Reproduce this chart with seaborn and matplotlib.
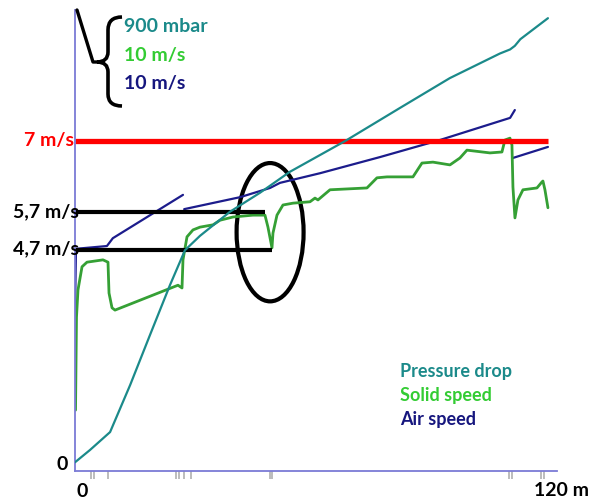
import numpy as np
import pandas as pd
import matplotlib.pyplot as plt
from matplotlib.patches import Ellipse
from matplotlib.path import Path
from matplotlib.patches import PathPatch
import seaborn as sns

# pressure drop (mbar) along the line (m)
p_x = [0, 3.8, 8.9, 14.0, 19.0, 24.1, 27.9, 31.7, 39.3, 46.9, 54.5, 62.2, 68.5,
       82.5, 95.1, 107.8, 110.4, 111.6, 113.0, 120]
p_mbar = [17, 41, 76, 168, 265, 363, 431, 459, 506, 543, 584, 617, 644,
          709, 767, 815, 823, 830, 843, 884]

# solid speed (m/s)
s_x = [0.13, 0.38, 0.76, 1.78, 3.04, 7.10, 8.37, 8.63, 9.39, 10.15, 26.13, 27.15,
       27.40, 28.42, 29.94, 31.72, 35.02, 36.80, 40.10, 45.16, 48.20, 48.96, 49.98,
       50.23, 51.25, 52.77, 55.31, 59.62, 60.89, 61.65, 64.70, 74.08, 76.62, 79.16,
       85.75, 88.04, 90.83, 95.14, 97.67, 99.45, 105.29, 108.33, 109.09, 110.36,
       110.87, 111.12, 111.63, 112.39, 113.66, 117.21, 118.48, 118.73, 119.24, 120]
s_speed = [1.32, 3.34, 3.93, 4.43, 4.53, 4.58, 4.53, 3.86, 3.54, 3.49, 4.03, 3.97,
           4.58, 5.08, 5.23, 5.29, 5.34, 5.44, 5.51, 5.55, 5.55, 5.29, 4.84,
           5.16, 5.55, 5.77, 5.81, 5.84, 5.92, 5.88, 6.10, 6.14, 6.36, 6.38,
           6.38, 6.68, 6.70, 6.64, 6.79, 6.96, 6.90, 6.92, 7.18, 7.22,
           7.07, 6.16, 5.49, 5.88, 6.10, 6.14, 6.27, 6.29, 6.10, 5.71]

# air speed (m/s), three pieces
a1_x = [0, 0.1, 0.25, 8.1, 9.6, 27.4]
a1_speed = [3.3, 4.0, 4.82, 4.88, 5.05, 5.99]
a2_x = [27.7, 41.9, 49.5, 52.0, 62.2, 77.4, 92.6, 110.4, 111.6]
a2_speed = [5.68, 5.94, 6.14, 6.25, 6.46, 6.81, 7.18, 7.66, 7.83]
a3_x = [111.1, 120]
a3_speed = [6.79, 7.03]

limit_speed = 7.16
marks_x = [4.06, 4.82, 8.37, 25.6, 26.4, 27.7, 29.4, 49.5, 50.0, 110.1, 110.9, 118.2, 119.0]

teal = '#1b8a8a'
green = '#35a035'
green_txt = '#33cc33'
navy = '#1c1c8c'
navy_txt = '#16167e'

sns.set_style('white')
plt.rcParams['font.family'] = ['Lato', 'DejaVu Sans']

fig = plt.figure(figsize=(6, 5.04), dpi=100)
ax = fig.add_axes([75 / 600, 1 - 471 / 504, (557 - 75) / 600, (471 - 10) / 504])
ax.set_xlim(0, 122.3)
ax.set_ylim(0, 10)

air = pd.concat([
    pd.DataFrame({'x': a1_x, 'v': a1_speed, 'seg': 1}),
    pd.DataFrame({'x': a2_x, 'v': a2_speed, 'seg': 2}),
    pd.DataFrame({'x': a3_x, 'v': a3_speed, 'seg': 3}),
])
sns.lineplot(data=air, x='x', y='v', units='seg', estimator=None, sort=False,
             color=navy, lw=1.6, ax=ax)
sns.lineplot(x=s_x, y=s_speed, sort=False, estimator=None, color=green, lw=2, ax=ax)

ax2 = ax.twinx()
ax2.set_ylim(0, 900)
sns.lineplot(x=p_x, y=p_mbar, sort=False, estimator=None, color=teal, lw=1.6, ax=ax2)
ax2.axis('off')

# red limit line
ax.plot([0, 120], [limit_speed, limit_speed], color='red', lw=3.8, solid_capstyle='butt')
# black reference lines
ax.plot([0, 48.2], [5.62, 5.62], color='black', lw=3, solid_capstyle='butt')
ax.plot([0, 50.0], [4.79, 4.79], color='black', lw=3, solid_capstyle='butt')
ax.add_patch(Ellipse((49.5, 5.18), 17.0, 3.0, fill=False, ec='black', lw=3))

for s in ['top', 'right']:
    ax.spines[s].set_visible(False)
for s in ['left', 'bottom']:
    ax.spines[s].set_color('#7b7bd6')
    ax.spines[s].set_linewidth(1.3)

ax.set_yticks([])
ax.set_xticks(marks_x)
ax.set_xticklabels([])
ax.tick_params(axis='x', direction='out', length=6, width=1.2, color='#b0b0b0', bottom=True)
ax.set_xlabel('')
ax.set_ylabel('')

bold = dict(fontweight='bold', fontsize=14)
ax.text(-0.3, limit_speed, '7 m/s', color='red', ha='right', va='center', **bold)
ax.text(1.0, 5.62, '5,7 m/s', color='black', ha='right', va='center', **bold)
ax.text(1.0, 4.83, '4,7 m/s', color='black', ha='right', va='center', **bold)
ax.text(-1.8, 0.15, '0', color='black', ha='right', va='center', **bold)
ax.text(1.8, -0.45, '0', color='black', ha='center', va='center', **bold)
ax.text(123.5, -0.42, '120 m', color='black', ha='center', va='center', clip_on=False, **bold)

# top scale labels
fig.text(124 / 600, 1 - 27 / 504, '900 mbar', color=teal, va='center', **bold)
fig.text(124 / 600, 1 - 55 / 504, '10 m/s', color=green_txt, va='center', **bold)
fig.text(124 / 600, 1 - 83 / 504, '10 m/s', color=navy_txt, va='center', **bold)

# legend text
leg = dict(fontweight='bold', fontsize=13)
fig.text(400 / 600, 1 - 372 / 504, 'Pressure drop', color=teal, va='center', **leg)
fig.text(400 / 600, 1 - 395 / 504, 'Solid speed', color=green_txt, va='center', **leg)
fig.text(400 / 600, 1 - 419 / 504, 'Air speed', color=navy_txt, va='center', **leg)


def fp(px, py):
    return (px / 600, 1 - py / 504)


# brace and pointer
verts = [fp(122, 17), fp(108, 17), fp(108, 30), fp(108, 52), fp(108, 62), fp(97, 62),
         fp(108, 62), fp(108, 72), fp(108, 94), fp(108, 106), fp(122, 106)]
codes = [Path.MOVETO, Path.CURVE3, Path.CURVE3, Path.LINETO, Path.CURVE3, Path.CURVE3,
         Path.CURVE3, Path.CURVE3, Path.LINETO, Path.CURVE3, Path.CURVE3]
fig.add_artist(PathPatch(Path(verts, codes), fill=False, ec='black', lw=2.6,
                         transform=fig.transFigure))
ptr = [fp(77, 10), fp(93, 62), fp(99, 62)]
fig.add_artist(plt.Line2D([p[0] for p in ptr], [p[1] for p in ptr], color='black', lw=2.4,
                          transform=fig.transFigure))

fig.savefig('out.png', dpi=100)
